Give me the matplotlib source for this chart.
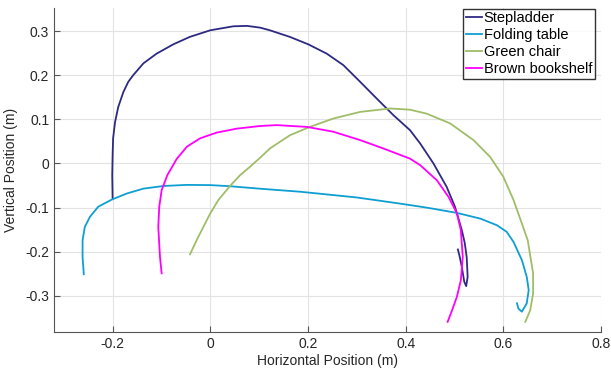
import matplotlib
matplotlib.use('Agg')
import matplotlib.pyplot as plt

plt.rcParams['font.family'] = ['Liberation Sans', 'DejaVu Sans']

# Trajectories (x, y in metres)
step_x = [-0.200, -0.2008, -0.200, -0.199, -0.195, -0.1885, -0.178, -0.168, -0.158, -0.137,
          -0.110, -0.076, -0.042, 0.000, 0.047, 0.075, 0.102, 0.122, 0.163, 0.201,
          0.2385, 0.2725, 0.307, 0.341, 0.375, 0.409, 0.430, 0.457, 0.484, 0.501,
          0.515, 0.521, 0.525, 0.527, 0.524, 0.520, 0.515, 0.510, 0.507]
step_y = [-0.079, -0.027, 0.019, 0.057, 0.094, 0.128, 0.162, 0.185, 0.200, 0.227,
          0.249, 0.270, 0.287, 0.302, 0.311, 0.312, 0.308, 0.302, 0.287, 0.270,
          0.249, 0.223, 0.185, 0.147, 0.1095, 0.0755, 0.045, 0.000, -0.053, -0.098,
          -0.151, -0.180, -0.212, -0.257, -0.278, -0.268, -0.234, -0.208, -0.195]

table_x = [-0.259, -0.2615, -0.2615, -0.257, -0.2465, -0.2295, -0.202, -0.171, -0.137, -0.096,
           -0.048, 0.000, 0.040, 0.100, 0.184, 0.300, 0.389, 0.443, 0.505, 0.553,
           0.587, 0.607, 0.621, 0.638, 0.648, 0.652, 0.648, 0.638, 0.631, 0.628]
table_y = [-0.251, -0.212, -0.174, -0.144, -0.121, -0.098, -0.082, -0.068, -0.057, -0.051,
           -0.0485, -0.049, -0.0515, -0.057, -0.064, -0.077, -0.091, -0.100, -0.112, -0.125,
           -0.140, -0.155, -0.178, -0.219, -0.257, -0.287, -0.317, -0.336, -0.329, -0.317]

chair_x = [-0.0416, -0.028, -0.0143, 0.000, 0.0164, 0.040, 0.061, 0.081, 0.102, 0.122,
           0.163, 0.204, 0.252, 0.307, 0.368, 0.409, 0.443, 0.491, 0.539, 0.573,
           0.600, 0.621, 0.638, 0.650, 0.661, 0.661, 0.655, 0.645]
chair_y = [-0.206, -0.174, -0.144, -0.113, -0.083, -0.0515, -0.0265, -0.0077, 0.013, 0.034,
           0.064, 0.083, 0.102, 0.117, 0.1247, 0.122, 0.113, 0.091, 0.053, 0.015,
           -0.030, -0.083, -0.136, -0.174, -0.249, -0.295, -0.333, -0.359]

shelf_x = [-0.0996, -0.103, -0.1065, -0.1045, -0.0996, -0.088, -0.069, -0.048, -0.021, 0.013,
           0.054, 0.102, 0.136, 0.1975, 0.252, 0.307, 0.3545, 0.409, 0.430, 0.464,
           0.488, 0.505, 0.513, 0.517, 0.513, 0.505, 0.495, 0.486]
shelf_y = [-0.249, -0.212, -0.144, -0.098, -0.0605, -0.0265, 0.010, 0.038, 0.057, 0.070,
           0.079, 0.085, 0.087, 0.083, 0.072, 0.053, 0.034, 0.011, -0.004, -0.038,
           -0.076, -0.113, -0.151, -0.212, -0.265, -0.302, -0.333, -0.359]

labels = ['Stepladder', 'Folding table', 'Green chair', 'Brown bookshelf']
colors = ['#2E2A82', '#0E9FD2', '#A0BD68', '#FF00FF']

fig = plt.figure(figsize=(6.11, 3.74), dpi=100)
ax = fig.add_axes([0.0884, 0.1123, 0.8952, 0.8657])

series = [(step_x, step_y), (table_x, table_y), (chair_x, chair_y), (shelf_x, shelf_y)]
for (xs, ys), lab, c in zip(series, labels, colors):
    ax.plot(xs, ys, color=c, linewidth=1.3, label=lab, solid_joinstyle='round')

ax.set_xlim(-0.32, 0.8)
ax.set_ylim(-0.382, 0.352)
ax.set_xticks([-0.2, 0, 0.2, 0.4, 0.6, 0.8])
ax.set_xticklabels(['-0.2', '0', '0.2', '0.4', '0.6', '0.8'])
ax.set_yticks([-0.3, -0.2, -0.1, 0, 0.1, 0.2, 0.3])
ax.set_yticklabels(['-0.3', '-0.2', '-0.1', '0', '0.1', '0.2', '0.3'])
ax.grid(True, color='#E3E3E3', linewidth=0.8)
ax.set_axisbelow(True)
for s in ['top', 'right']:
    ax.spines[s].set_visible(False)
for s in ['left', 'bottom']:
    ax.spines[s].set_color('#555555')
ax.tick_params(direction='in', length=4, colors='#555555', labelcolor='#262626', labelsize=10)

ax.set_xlabel('Horizontal Position (m)', fontsize=10, color='#262626', labelpad=2)
ax.set_ylabel('Vertical Position (m)', fontsize=10, color='#262626', labelpad=5)

leg = ax.legend(loc='upper right', fontsize=10.5, frameon=True, fancybox=False,
                edgecolor='black', handlelength=1.1, handletextpad=0.15,
                borderpad=0.2, labelspacing=0.2, borderaxespad=0.0,
                bbox_to_anchor=(0.9895, 0.999))
leg.get_frame().set_linewidth(1.0)

fig.savefig('out.png', dpi=100)
